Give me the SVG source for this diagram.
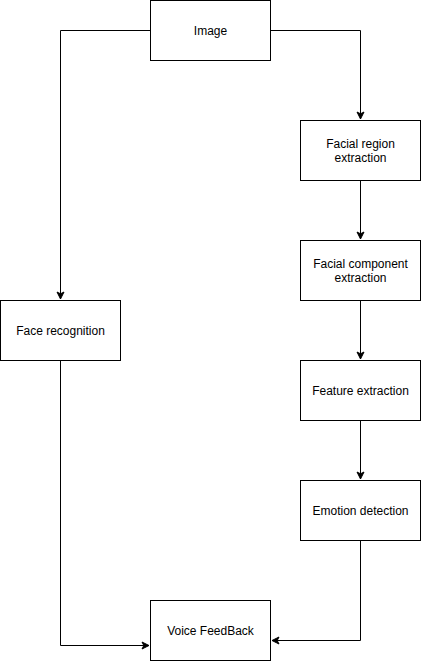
<svg xmlns="http://www.w3.org/2000/svg" width="421" height="661" viewBox="0 0 421 661">
<style>
.box{fill:#fff;stroke:#000;stroke-width:1}
.lbl{font-family:"Liberation Sans",Arial,sans-serif;font-size:12px;fill:#000;text-anchor:middle}
.edge{fill:none;stroke:#000;stroke-width:1}
</style>
<defs>
<marker id="arr" markerWidth="10" markerHeight="10" refX="8" refY="5" orient="auto" markerUnits="userSpaceOnUse">
<path d="M1,1.5 L8,5 L1,8.5 L2.8,5 Z" fill="#000" stroke="#000" stroke-width="1"/>
</marker>
</defs>
<rect width="421" height="661" fill="#fff"/>
<g id="connectors">
<path class="edge" d="M150.5,30.5 H60.5 V299" marker-end="url(#arr)"/>
<path class="edge" d="M270.5,30.5 H360.5 V119" marker-end="url(#arr)"/>
<path class="edge" d="M360.5,180.5 V239" marker-end="url(#arr)"/>
<path class="edge" d="M360.5,300.5 V359" marker-end="url(#arr)"/>
<path class="edge" d="M360.5,420.5 V479" marker-end="url(#arr)"/>
<path class="edge" d="M60.5,360.5 V645.5 H149" marker-end="url(#arr)"/>
<path class="edge" d="M360.5,540.5 V640.5 H272" marker-end="url(#arr)"/>
</g>
<g id="image"><rect class="box" x="150.5" y="0.5" width="120" height="60"/><text class="lbl" x="210.5" y="34.5">Image</text></g>
<g id="facial-region"><rect class="box" x="300.5" y="120.5" width="120" height="60"/><text class="lbl" x="360.5" y="147.5">Facial region</text><text class="lbl" x="360.5" y="161.5">extraction</text></g>
<g id="facial-component"><rect class="box" x="300.5" y="240.5" width="120" height="60"/><text class="lbl" x="360.5" y="267.5">Facial component</text><text class="lbl" x="360.5" y="281.5">extraction</text></g>
<g id="feature-extraction"><rect class="box" x="300.5" y="360.5" width="120" height="60"/><text class="lbl" x="360.5" y="394.5">Feature extraction</text></g>
<g id="emotion-detection"><rect class="box" x="300.5" y="480.5" width="120" height="60"/><text class="lbl" x="360.5" y="514.5">Emotion detection</text></g>
<g id="face-recognition"><rect class="box" x="0.5" y="300.5" width="120" height="60"/><text class="lbl" x="60.5" y="334.5">Face recognition</text></g>
<g id="voice-feedback"><rect class="box" x="150.5" y="600.5" width="120" height="60"/><text class="lbl" x="210.5" y="634.5">Voice FeedBack</text></g>
</svg>
